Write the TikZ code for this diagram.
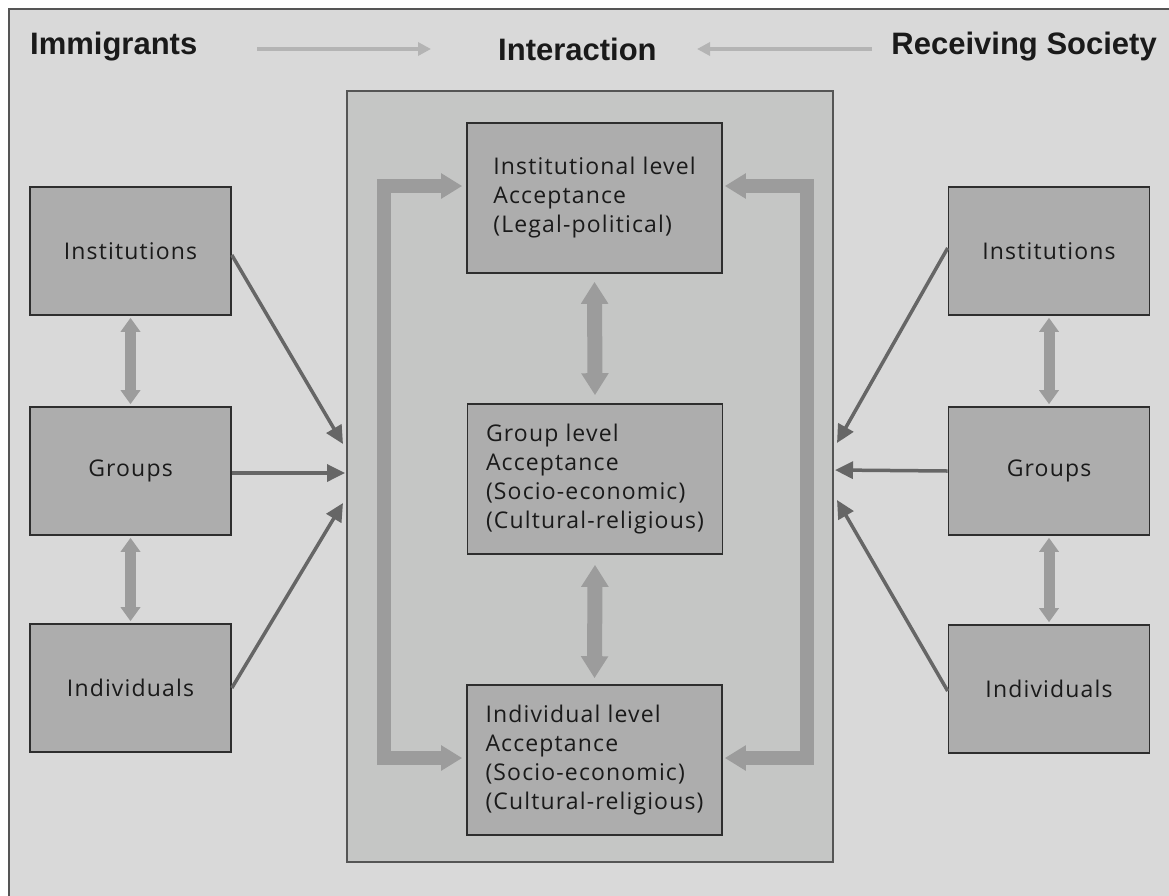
\documentclass[tikz,border=0pt]{standalone}
\usepackage{fontspec}
\setmainfont{Open Sans}[LetterSpace=5]
\newfontfamily\hdrfont{Liberation Sans}
\usetikzlibrary{arrows.meta}
\definecolor{bgc}{HTML}{D9D9D9}
\definecolor{innerc}{HTML}{C5C6C5}
\definecolor{boxc}{HTML}{ADADAD}
\definecolor{edgec}{HTML}{2E2E2E}
\definecolor{framec}{HTML}{555555}
\definecolor{thickc}{HTML}{9C9C9C}
\definecolor{darkc}{HTML}{666666}
\definecolor{lightc}{HTML}{B4B4B4}
\definecolor{txtc}{HTML}{1A1A1A}
\tikzset{
  hdr/.style={font=\hdrfont\bfseries\fontsize{31}{36}\selectfont, text=txtc, inner sep=0pt},
  sidebox/.style={draw=edgec, line width=1.6pt, fill=boxc, minimum width=201pt, minimum height=128pt,
    font=\fontsize{23}{29}\selectfont, text=txtc},
  lvlbox/.style={draw=edgec, line width=1.6pt, fill=boxc, minimum width=255pt, minimum height=150pt,
    align=left, font=\fontsize{23}{29}\selectfont, text=txtc},
  hdrarrow/.style={draw=lightc, line width=4pt, -{Triangle[length=13pt,width=13pt]}},
  darkarrow/.style={draw=darkc, line width=3.5pt, -{Triangle[length=18pt,width=17pt]}},
  sidetwo/.style={draw=thickc, line width=11pt, {Triangle[length=14pt,width=19pt]}-{Triangle[length=14pt,width=19pt]}},
  lvltwo/.style={draw=thickc, line width=15pt, {Triangle[length=22pt,width=26pt]}-{Triangle[length=22pt,width=26pt]}},
  loop/.style={draw=thickc, line width=14pt, line join=miter, {Triangle[length=21pt,width=24pt]}-{Triangle[length=21pt,width=24pt]}}
}
\begin{document}
\begin{tikzpicture}[x=1pt,y=-1pt]
\useasboundingbox (0,0) rectangle (1169,895);
\clip (0,0) rectangle (1169,895);
\fill[white] (0,0) rectangle (1169,895);
% outer frame
\draw[draw=framec, line width=2pt, fill=bgc] (8.5,9) rectangle (1190,920);
% headers
\node[hdr, anchor=base west] (imm) at (30,54) {Immigrants};
\node[hdr, anchor=base west] (int) at (498,60) {Interaction};
\node[hdr, anchor=base east] (rec) at (1157,54) {Receiving Society};
\coordinate (ha1) at (257,49);
\coordinate (ha2) at (431,49);
\coordinate (hb1) at (872,49);
\coordinate (hb2) at (697,49);
\draw[hdrarrow] (ha1) -- (ha2);
\draw[hdrarrow] (hb1) -- (hb2);
% interaction box
\node[draw=framec, line width=1.8pt, fill=innerc, minimum width=486pt, minimum height=771pt, inner sep=0pt] (inter) at (590,476.5) {};
% level boxes
\node[lvlbox] (inst) at (594.5,198) {Institutional level\\Acceptance\\(Legal-political)};
\node[lvlbox] (grp) at (595,479) {Group level\\Acceptance\\(Socio-economic)\\(Cultural-religious)};
\node[lvlbox] (indv) at (594.5,760) {Individual level\\Acceptance\\(Socio-economic)\\(Cultural-religious)};
% side boxes left
\node[sidebox] (instL) at (130.5,251) {Institutions};
\node[sidebox] (grpL) at (130.5,471) {Groups};
\node[sidebox] (indL) at (130.5,688) {Individuals};
% side boxes right
\node[sidebox] (instR) at (1049,251) {Institutions};
\node[sidebox] (grpR) at (1049,471) {Groups};
\node[sidebox] (indR) at (1049,689) {Individuals};
% double arrows between side boxes
\draw[sidetwo] ([yshift=-2pt]instL.south) -- ([yshift=2pt]grpL.north);
\draw[sidetwo] ([yshift=-2pt]grpL.south) -- ([yshift=2pt]indL.north);
\draw[sidetwo] ([yshift=-2pt]instR.south) -- ([yshift=2pt]grpR.north);
\draw[sidetwo] ([yshift=-2pt]grpR.south) -- ([yshift=2pt]indR.north);
% double arrows between level boxes
\draw[lvltwo] ([yshift=-8pt]inst.south) -- ([yshift=8pt]grp.north);
\draw[lvltwo] ([yshift=-10pt]grp.south) -- ([yshift=6pt]indv.north);
% feedback loops
\draw[loop] ([xshift=-4pt,yshift=12pt]inst.west) -- ++(-78,0) |- ([xshift=-4pt,yshift=2pt]indv.west);
\draw[loop] ([xshift=2pt,yshift=12pt]inst.east) -- ++(82,0) |- ([xshift=2pt,yshift=2pt]indv.east);
% dark arrows into interaction
\coordinate (tL1) at (343,444);
\coordinate (tL2) at (345,473);
\coordinate (tL3) at (343,503);
\coordinate (tR1) at (837,443);
\coordinate (tR2) at (835,470);
\coordinate (tR3) at (837,500);
\draw[darkarrow] ([yshift=-4pt]instL.east) -- (tL1);
\draw[darkarrow] ([yshift=-2pt]grpL.east) -- (tL2);
\draw[darkarrow] (indL.east) -- (tL3);
\draw[darkarrow] ([yshift=3pt]instR.west) -- (tR1);
\draw[darkarrow] (grpR.west) -- (tR2);
\draw[darkarrow] ([yshift=-2pt]indR.west) -- (tR3);
\end{tikzpicture}
\end{document}
